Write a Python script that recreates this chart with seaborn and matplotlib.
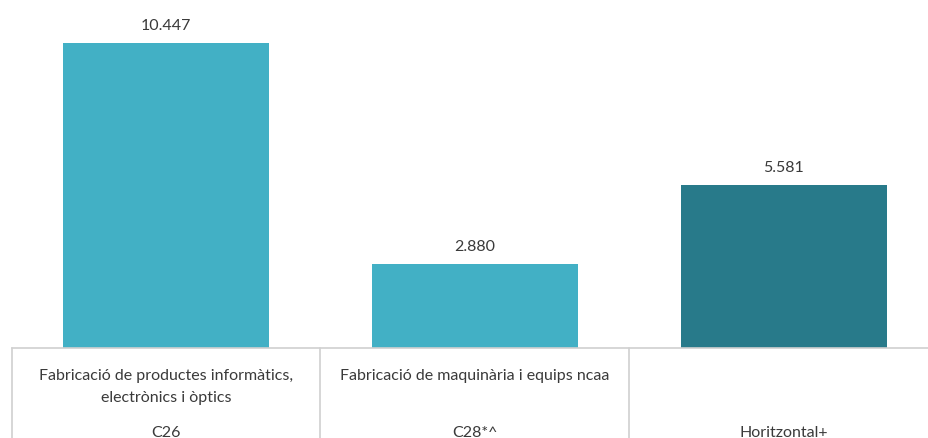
import matplotlib
matplotlib.use('Agg')
import matplotlib.pyplot as plt
import matplotlib.transforms as mtransforms
import seaborn as sns
import pandas as pd

# Dades
categories = ['Fabricació de productes informàtics,\nelectrònics i òptics',
              'Fabricació de maquinària i equips ncaa',
              '']
codes = ['C26', 'C28*^', 'Horitzontal+']
values = [10447, 2880, 5581]
colors = ['#42B0C5', '#42B0C5', '#287A8A']

df = pd.DataFrame({'codi': codes, 'valor': values})

sns.set_style('white')
plt.rcParams['font.family'] = ['Lato', 'DejaVu Sans']
text_color = '#3A3A3A'

fig = plt.figure(figsize=(9.29, 4.39), dpi=100)
ax = fig.add_axes([11.5 / 929, 90 / 439, 927 / 929, 349 / 439])

sns.barplot(data=df, x='codi', y='valor', hue='codi', palette=colors,
            width=0.665, legend=False, ax=ax, saturation=1, linewidth=0)

ax.set_xlim(-0.5, 2.5)
ax.set_ylim(0, 11956)

for cont in ax.containers:
    ax.bar_label(cont, labels=[f'{int(v):,}'.replace(',', '.') for v in cont.datavalues],
                 padding=8, fontsize=11.5, color=text_color)

# Eixos
ax.set_xticks([])
ax.set_yticks([])
ax.set_xlabel('')
ax.set_ylabel('')
for s in ['top', 'right', 'left']:
    ax.spines[s].set_visible(False)
ax.spines['bottom'].set_color('#D0D0D0')
ax.spines['bottom'].set_linewidth(1.2)

# Etiquetes de categoria (com una taula sota l'eix)
trans = mtransforms.blended_transform_factory(ax.transData, fig.transFigure)
for i, (cat, code) in enumerate(zip(categories, codes)):
    ax.text(i, 1 - 369 / 439, cat, transform=trans, ha='center', va='top',
            fontsize=11.5, color=text_color, linespacing=1.75, clip_on=False)
    ax.text(i, 1 - 433 / 439, code, transform=trans, ha='center', va='center',
            fontsize=11.5, color=text_color, clip_on=False)

for xs in [-0.5, 0.5, 1.5]:
    ax.plot([xs, xs], [0, 90 / 439], transform=trans, color='#D0D0D0',
            linewidth=1.2, clip_on=False)

fig.savefig('out.png', dpi=100)
